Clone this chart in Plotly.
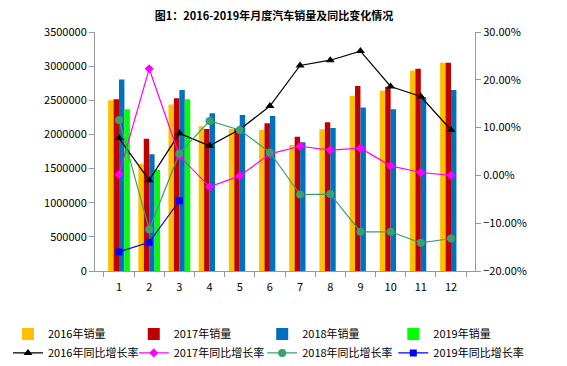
import plotly.graph_objects as go

months = [str(i) for i in range(1, 13)]
sales_2016 = [2500000, 1570000, 2440000, 2120000, 2080000, 2065000, 1845000, 2075000, 2565000, 2640000, 2935000, 3050000]
sales_2017 = [2515000, 1935000, 2530000, 2080000, 2085000, 2165000, 1965000, 2180000, 2710000, 2700000, 2960000, 3050000]
sales_2018 = [2805000, 1710000, 2650000, 2310000, 2285000, 2270000, 1885000, 2095000, 2395000, 2370000, 2545000, 2650000]
sales_2019 = [2370000, 1480000, 2515000]
growth_2016 = [7.8, -1.0, 8.8, 6.2, 9.6, 14.5, 23.0, 24.1, 26.0, 18.6, 16.5, 9.5]
growth_2017 = [0.2, 22.3, 4.1, -2.4, -0.1, 4.5, 6.1, 5.3, 5.7, 2.0, 0.6, 0.0]
growth_2018 = [11.6, -11.3, 4.6, 11.4, 9.5, 4.8, -4.0, -3.9, -11.8, -11.8, -14.1, -13.2]
growth_2019 = [-16.0, -14.0, -5.3]

font = "Noto Sans CJK SC, SimSun, sans-serif"
legend_ids = ["legend", "legend2", "legend3", "legend4"]

fig = go.Figure()
bar_specs = [("2016年销量", sales_2016, "#FFC000"),
             ("2017年销量", sales_2017, "#C00000"),
             ("2018年销量", sales_2018, "#0070C0"),
             ("2019年销量", sales_2019, "#00FF00")]
for i, (name, vals, col) in enumerate(bar_specs):
    fig.add_trace(go.Bar(x=months[:len(vals)], y=vals, name=name, marker_color=col,
                         marker_line_width=0, yaxis="y", legend=legend_ids[i]))

line_specs = [("2016年同比增长率", growth_2016, "#000000", "triangle-up", 8),
              ("2017年同比增长率", growth_2017, "#FF00FF", "diamond", 7),
              ("2018年同比增长率", growth_2018, "#3C9F6E", "circle", 8),
              ("2019年同比增长率", growth_2019, "#0000FF", "square", 7)]
for i, (name, vals, col, sym, sz) in enumerate(line_specs):
    fig.add_trace(go.Scatter(x=months[:len(vals)], y=[v / 100 for v in vals], name=name,
                             mode="lines+markers", line=dict(color=col, width=1.2),
                             marker=dict(symbol=sym, size=sz, color=col), yaxis="y2",
                             legend=legend_ids[i]))

legend_x = [-0.229, 0.102, 0.44, 0.785]
legend_common = dict(orientation="v", xanchor="left", y=-0.2025, yanchor="top",
                     traceorder="normal", font=dict(size=11), itemwidth=30,
                     bgcolor="rgba(0,0,0,0)", tracegroupgap=0)

fig.update_layout(
    width=559, height=358,
    margin=dict(l=87, r=92, t=24, b=95, autoexpand=False),
    paper_bgcolor="white", plot_bgcolor="white",
    font=dict(family=font, size=11, color="#000"),
    title=dict(text="<b>图1：2016-2019年月度汽车销量及同比变化情况</b>", x=0.476, xanchor="center",
               y=0.978, yanchor="middle", font=dict(size=11)),
    barmode="group", bargap=0.28, bargroupgap=0,
    showlegend=True,
    legend=dict(x=legend_x[0], **legend_common),
    legend2=dict(x=legend_x[1], **legend_common),
    legend3=dict(x=legend_x[2], **legend_common),
    legend4=dict(x=legend_x[3], **legend_common),
    xaxis=dict(type="category", showline=True, linecolor="#999", ticks="outside",
               tickson="boundaries", ticklen=5, tickcolor="#999", showgrid=False,
               tickfont=dict(size=11), ticklabelstandoff=6),
    yaxis=dict(range=[0, 3500000], dtick=500000, tickformat="d", showline=True,
               linecolor="#999", ticks="outside", ticklen=5, tickcolor="#999",
               showgrid=False, zeroline=False, tickfont=dict(size=11)),
    yaxis2=dict(range=[-0.2, 0.3], dtick=0.1, tickformat=".2%", overlaying="y", side="right",
                showline=True, linecolor="#999", ticks="outside", ticklen=5, tickcolor="#999",
                showgrid=False, zeroline=False, tickfont=dict(size=11)),
)

fig.write_html("out.html")
